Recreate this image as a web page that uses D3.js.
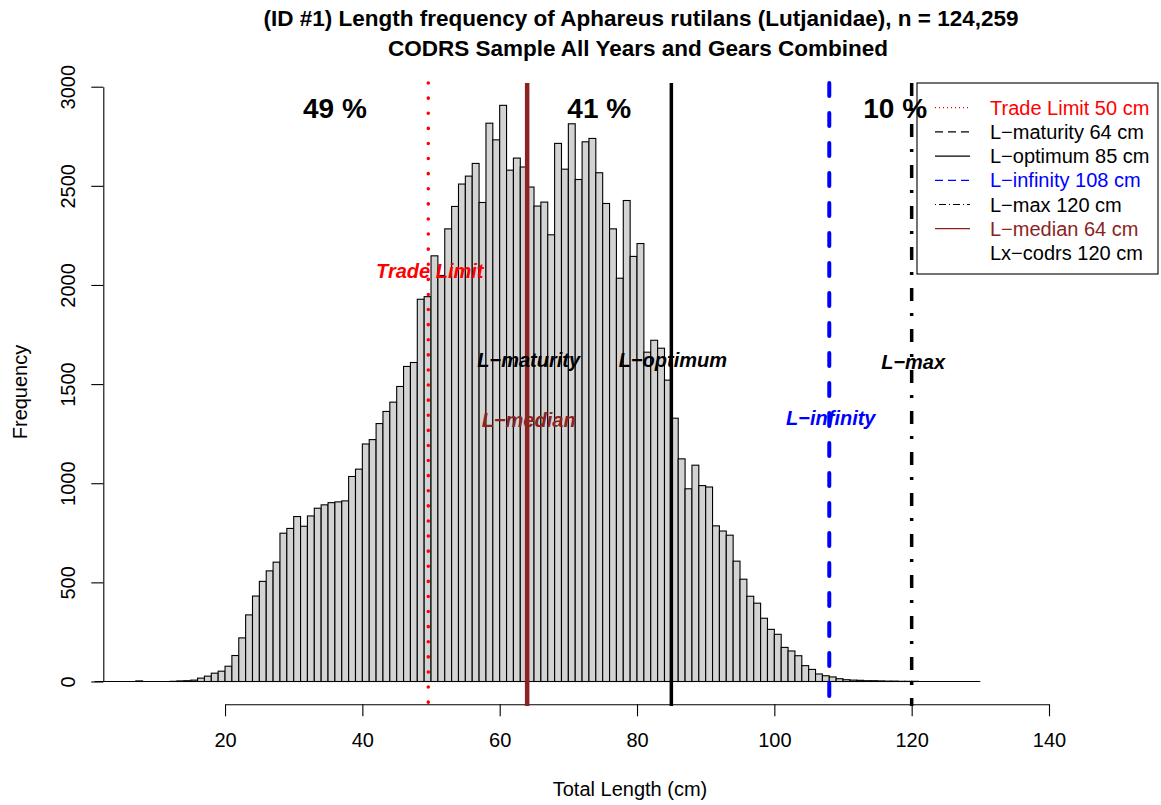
<!DOCTYPE html>
<html lang="en">
<head>
	<meta charset="UTF-8">
	<title>Length frequency</title>
	<script type="text/javascript" src="https://cdn.jsdelivr.net/npm/d3@7/dist/d3.min.js"></script>
	<style>
		body { margin: 0; background: #fff; }
		text { font-family: "Liberation Sans", Arial, Helvetica, sans-serif; }
	</style>
</head>
<body>
	<div class="chart"></div>
	<script type="text/javascript">
		// counts per 1 cm bin, first bin starts at 1 cm
		var firstBin = 1;
		var counts = [
			0,0,0,0,0,0,3,0,0,0,0,1,3,4,7,17,27,42,52,
			77,131,220,336,431,505,558,602,748,772,832,783,835,874,891,902,906,911,1034,1071,
			1198,1220,1301,1362,1409,1488,1589,1609,1928,1941,2147,2048,2283,2396,2509,2549,2613,2416,2816,2732,
			2906,2579,2640,2595,2494,2398,2418,2253,2714,2584,2813,2532,2722,2739,2566,2411,2283,2034,2426,2144,
			2209,1661,1721,1681,1520,1328,1123,972,1091,988,981,785,759,738,607,516,430,395,319,263,
			238,172,154,130,80,61,38,29,23,14,9,7,6,4,4,3,2,2,1,1,
			1,0,0,0,0,0,0,0,0,0
		];
		var xTicks = [20,40,60,80,100,120,140];
		var yTicks = [0,500,1000,1500,2000,2500,3000];

		var refNames = ['Trade Limit','L\u2212maturity','L\u2212optimum','L\u2212infinity','L\u2212max','L\u2212median','Lx\u2212codrs'];
		var refValues = [49.6,64,85,108,120,64,120];
		var pctLabels = ['49 %','41 %','10 %'];

		var bins = counts.map(function(d,i){
			return {x0: firstBin + i, x1: firstBin + i + 1, n: d};
		});

		var W = 1161, H = 805;
		var svg = d3.select('.chart').append('svg').attr('width',W).attr('height',H);

		var x = d3.scaleLinear().domain([0,140]).range([87.7,1049]);
		var y = d3.scaleLinear().domain([0,3000]).range([681.5,86.7]);
		var plotLeft = 103.3, plotTop = 83, plotBottom = 706, axisY = 704.3;

		// bars
		svg.append('line')
			.attr('x1',x(bins[0].x0)).attr('x2',x(bins[bins.length-1].x1))
			.attr('y1',y(0)).attr('y2',y(0))
			.attr('stroke','#000').attr('stroke-width',1.1);

		svg.append('g').selectAll('rect').data(bins.filter(function(d){ return d.n > 0; }))
			.enter()
			.append('rect')
			.attr('x',function(d){ return x(d.x0); })
			.attr('y',function(d){ return y(d.n); })
			.attr('width',function(d){ return x(d.x1) - x(d.x0); })
			.attr('height',function(d){ return y(0) - y(d.n); })
			.attr('fill','#d3d3d3')
			.attr('stroke','#000')
			.attr('stroke-width',1.1);

		// axes
		var xAxis = d3.axisBottom(x.copy().domain([20,140]).range([x(20),x(140)]))
			.tickValues(xTicks).tickSize(12).tickSizeOuter(0).tickPadding(17)
			.tickFormat(d3.format('d'));
		var gx = svg.append('g').attr('transform','translate(0,' + axisY + ')').call(xAxis);
		gx.selectAll('text').attr('font-size',20).attr('fill','#000')
			.style('font-family','"Liberation Sans", Arial, sans-serif');
		gx.selectAll('path,line').attr('stroke','#000').attr('stroke-width',1.1);

		var yAxis = d3.axisLeft(y).tickValues(yTicks).tickSize(12).tickSizeOuter(0)
			.tickFormat(d3.format('d'));
		var gy = svg.append('g').attr('transform','translate(' + plotLeft + ',0)').call(yAxis);
		gy.selectAll('text')
			.attr('x',null).attr('dy',null)
			.attr('transform','translate(-28,0) rotate(-90)')
			.attr('text-anchor','middle')
			.attr('font-size',20).attr('fill','#000')
			.style('font-family','"Liberation Sans", Arial, sans-serif');
		gy.selectAll('path,line').attr('stroke','#000').attr('stroke-width',1.1);

		// titles
		svg.append('text').attr('x',641).attr('y',26).attr('text-anchor','middle')
			.attr('font-size',22.5).attr('font-weight','bold')
			.text('(ID #1) Length frequency of Aphareus rutilans (Lutjanidae), n = 124,259');
		svg.append('text').attr('x',638).attr('y',56).attr('text-anchor','middle')
			.attr('font-size',22.5).attr('font-weight','bold')
			.text('CODRS Sample All Years and Gears Combined');
		svg.append('text').attr('x',630).attr('y',796).attr('text-anchor','middle')
			.attr('font-size',20).text('Total Length (cm)');
		svg.append('text').attr('transform','translate(27,392) rotate(-90)').attr('text-anchor','middle')
			.attr('font-size',20).text('Frequency');

		// reference lines
		var refStyle = [
			{color:'#ff0000', width:3.5, dash:'0.1,15', cap:'round', legDash:'1,3', labelY:2070},
			{color:'#000000', width:3.5, dash:'13,17', cap:'butt', legDash:'8,5', labelY:1620},
			{color:'#000000', width:3.5, dash:null, cap:'butt', legDash:null, labelY:1620},
			{color:'#0000ff', width:4, dash:'13,17', cap:'round', legDash:'8,5', labelY:1328},
			{color:'#000000', width:3.5, dash:'13,12,3,13', cap:'butt', legDash:'1,3,7,3', labelY:1610},
			{color:'#8b2323', width:4.5, dash:null, cap:'butt', legDash:null, labelY:1318},
			null
		];

		refValues.forEach(function(v,i){
			var s = refStyle[i];
			if (!s) return;
			svg.append('line')
				.attr('x1',x(v)).attr('x2',x(v))
				.attr('y1',plotTop).attr('y2',plotBottom)
				.attr('stroke',s.color).attr('stroke-width',s.width)
				.attr('stroke-linecap',s.cap)
				.attr('stroke-dasharray',s.dash);
		});

		refValues.forEach(function(v,i){
			var s = refStyle[i];
			if (!s) return;
			svg.append('text')
				.attr('x',x(v) + 1.5).attr('y',y(s.labelY) + 7)
				.attr('text-anchor','middle')
				.attr('font-size',20).attr('font-weight','bold').attr('font-style','italic')
				.attr('fill',s.color)
				.text(refNames[i]);
		});

		// legend
		var leg = svg.append('g');
		leg.append('rect').attr('x',917).attr('y',83).attr('width',241).attr('height',191)
			.attr('fill','#fff').attr('stroke','#000').attr('stroke-width',1.1);
		refNames.forEach(function(name,i){
			var s = refStyle[i];
			var ry = 107.7 + i * 24.2;
			var col = s ? s.color : '#000';
			if (s) {
				leg.append('line').attr('x1',935).attr('x2',970).attr('y1',ry).attr('y2',ry)
					.attr('stroke',s.color).attr('stroke-width',1.2)
					.attr('stroke-dasharray',s.legDash);
			}
			leg.append('text').attr('x',990).attr('y',ry + 7)
				.attr('font-size',20).attr('fill',col)
				.text(name + ' ' + Math.round(refValues[i]) + ' cm');
		});

		// share labels
		var pctX = [36,74.5,117.6];
		pctLabels.forEach(function(t,i){
			svg.append('text').attr('x',x(pctX[i])).attr('y',y(2895) + 10)
				.attr('text-anchor','middle')
				.attr('font-size',28).attr('font-weight','bold')
				.text(t);
		});
	</script>
</body>
</html>
